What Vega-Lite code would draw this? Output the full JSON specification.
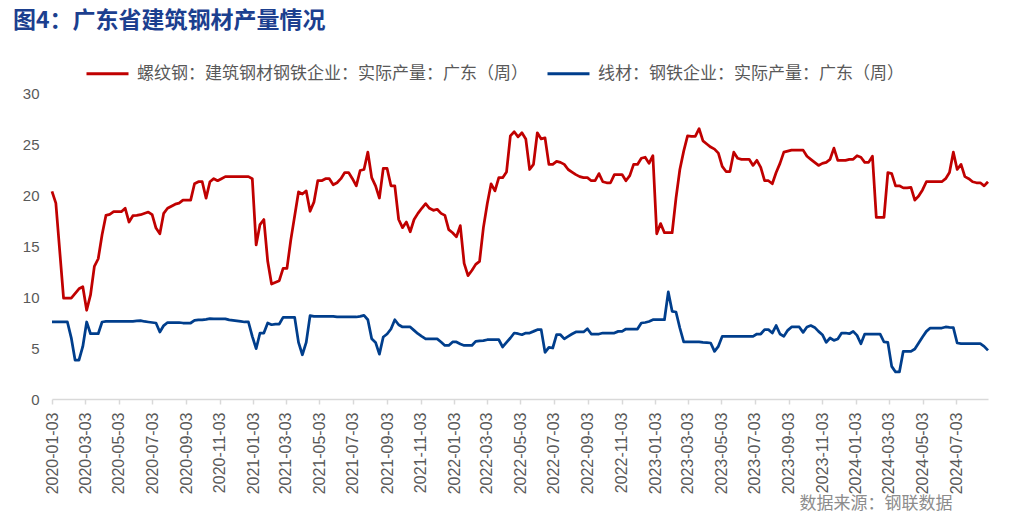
{
 "$schema": "https://vega.github.io/schema/vega-lite/v6.json",
 "width": 936,
 "height": 306,
 "autosize": "none",
 "padding": {"left": 52, "top": 93, "right": 25, "bottom": 126},
 "background": "white",
 "title": {"text": "图4：广东省建筑钢材产量情况", "anchor": "start", "frame": "group", "dx": -39, "dy": -3, "font": "Noto Sans CJK SC", "fontSize": 23, "fontWeight": "bold", "color": "#1c3f8f", "baseline": "middle"},
 "data": {"values": [
{"d":"2020-01-03","r":20.35,"w":7.55},
{"d":"2020-01-10","r":19.2,"w":7.55},
{"d":"2020-01-17","w":7.55},
{"d":"2020-01-24","r":9.9,"w":7.55},
{"d":"2020-01-31","r":9.9,"w":7.55},
{"d":"2020-02-07","r":9.9,"w":6.0},
{"d":"2020-02-14","w":3.8},
{"d":"2020-02-21","r":10.8,"w":3.8},
{"d":"2020-02-28","r":11.0,"w":5.15},
{"d":"2020-03-06","r":8.7,"w":7.55},
{"d":"2020-03-13","r":10.2,"w":6.4},
{"d":"2020-03-20","r":13.0,"w":6.4},
{"d":"2020-03-27","r":13.75,"w":6.4},
{"d":"2020-04-03","r":16.1,"w":7.55},
{"d":"2020-04-10","r":18.0,"w":7.6},
{"d":"2020-04-17","r":18.1,"w":7.6},
{"d":"2020-04-24","r":18.36,"w":7.6},
{"d":"2020-05-01","r":18.36,"w":7.6},
{"d":"2020-05-08","r":18.36,"w":7.6},
{"d":"2020-05-15","r":18.7,"w":7.6},
{"d":"2020-05-22","r":17.35,"w":7.62},
{"d":"2020-05-29","r":17.97,"w":7.62},
{"d":"2020-06-05","r":18.0,"w":7.65},
{"d":"2020-06-12","r":18.07,"w":7.68},
{"d":"2020-06-19","w":7.6},
{"d":"2020-06-26","r":18.33,"w":7.55},
{"d":"2020-07-03","r":18.07,"w":7.5},
{"d":"2020-07-10","r":16.76,"w":7.45},
{"d":"2020-07-17","r":16.2,"w":6.57},
{"d":"2020-07-24","r":18.2,"w":7.2},
{"d":"2020-07-31","r":18.7,"w":7.5},
{"d":"2020-08-07","r":18.9,"w":7.5},
{"d":"2020-08-14","r":19.1,"w":7.5},
{"d":"2020-08-21","r":19.2,"w":7.5},
{"d":"2020-08-28","r":19.5,"w":7.45},
{"d":"2020-09-04","r":19.5,"w":7.45},
{"d":"2020-09-11","r":19.5,"w":7.45},
{"d":"2020-09-18","r":21.1,"w":7.7},
{"d":"2020-09-25","r":21.3,"w":7.75},
{"d":"2020-10-02","r":21.3,"w":7.75},
{"d":"2020-10-09","r":19.7,"w":7.8},
{"d":"2020-10-16","r":21.3,"w":7.87},
{"d":"2020-10-23","r":21.6,"w":7.85},
{"d":"2020-10-30","r":21.4,"w":7.85},
{"d":"2020-11-06","r":21.6,"w":7.85},
{"d":"2020-11-13","r":21.8,"w":7.85},
{"d":"2020-11-20","r":21.8,"w":7.75},
{"d":"2020-11-27","r":21.8,"w":7.7},
{"d":"2020-12-04","r":21.8,"w":7.65},
{"d":"2020-12-11","r":21.8,"w":7.6},
{"d":"2020-12-18","r":21.8,"w":7.55},
{"d":"2020-12-25","r":21.8,"w":7.55},
{"d":"2021-01-01","r":21.6,"w":6.14},
{"d":"2021-01-08","r":15.1,"w":4.93},
{"d":"2021-01-15","r":17.1,"w":6.47},
{"d":"2021-01-22","r":17.6,"w":6.47},
{"d":"2021-01-29","r":13.5,"w":7.45},
{"d":"2021-02-05","r":11.27,"w":7.28},
{"d":"2021-02-12","w":7.35},
{"d":"2021-02-19","r":11.6,"w":7.35},
{"d":"2021-02-26","r":12.8,"w":8.0},
{"d":"2021-03-05","r":12.8,"w":8.0},
{"d":"2021-03-12","r":15.6,"w":8.0},
{"d":"2021-03-19","w":8.0},
{"d":"2021-03-26","r":20.3,"w":5.55},
{"d":"2021-04-02","r":20.1,"w":4.34},
{"d":"2021-04-09","r":20.4,"w":5.55},
{"d":"2021-04-16","r":18.4,"w":8.17},
{"d":"2021-04-23","r":19.3,"w":8.1},
{"d":"2021-04-30","r":21.4,"w":8.1},
{"d":"2021-05-07","r":21.4,"w":8.1},
{"d":"2021-05-14","r":21.6,"w":8.1},
{"d":"2021-05-21","r":21.6,"w":8.1},
{"d":"2021-05-28","r":21.0,"w":8.1},
{"d":"2021-06-04","r":21.2,"w":8.05},
{"d":"2021-06-11","r":21.6,"w":8.05},
{"d":"2021-06-18","r":22.2,"w":8.05},
{"d":"2021-06-25","r":22.2,"w":8.05},
{"d":"2021-07-02","r":21.6,"w":8.05},
{"d":"2021-07-09","r":20.9,"w":8.04},
{"d":"2021-07-16","r":22.4,"w":8.1},
{"d":"2021-07-23","r":22.5,"w":8.2},
{"d":"2021-07-30","r":24.2,"w":7.77},
{"d":"2021-08-06","r":21.7,"w":5.9},
{"d":"2021-08-13","r":20.9,"w":5.55},
{"d":"2021-08-20","r":19.7,"w":4.4},
{"d":"2021-08-27","r":22.6,"w":6.08},
{"d":"2021-09-03","r":22.6,"w":6.37},
{"d":"2021-09-10","r":20.9,"w":6.86},
{"d":"2021-09-17","r":20.9,"w":7.77},
{"d":"2021-09-24","r":17.6,"w":7.28},
{"d":"2021-10-01","r":16.8,"w":7.06},
{"d":"2021-10-08","r":17.35,"w":7.06},
{"d":"2021-10-15","r":16.4,"w":7.06},
{"d":"2021-10-22","r":17.6,"w":6.73},
{"d":"2021-10-29","r":18.2,"w":6.4},
{"d":"2021-11-05","r":18.7,"w":6.14},
{"d":"2021-11-12","r":19.15,"w":5.9},
{"d":"2021-11-19","r":18.7,"w":5.9},
{"d":"2021-11-26","r":18.5,"w":5.9},
{"d":"2021-12-03","r":18.6,"w":5.9},
{"d":"2021-12-10","r":18.2,"w":5.59},
{"d":"2021-12-17","r":18.0,"w":5.25},
{"d":"2021-12-24","r":16.6,"w":5.25},
{"d":"2021-12-31","r":16.3,"w":5.59},
{"d":"2022-01-07","r":15.9,"w":5.59},
{"d":"2022-01-14","r":17.0,"w":5.39},
{"d":"2022-01-21","r":13.3,"w":5.25},
{"d":"2022-01-28","r":12.1,"w":5.25},
{"d":"2022-02-04","r":12.6,"w":5.25},
{"d":"2022-02-11","r":13.2,"w":5.65},
{"d":"2022-02-18","r":13.5,"w":5.7},
{"d":"2022-02-25","r":16.8,"w":5.72},
{"d":"2022-03-04","r":19.15,"w":5.81},
{"d":"2022-03-11","r":21.1,"w":5.81},
{"d":"2022-03-18","r":20.4,"w":5.81},
{"d":"2022-03-25","r":21.7,"w":5.81},
{"d":"2022-04-01","r":21.7,"w":5.1},
{"d":"2022-04-08","r":22.25,"w":5.55},
{"d":"2022-04-15","r":25.8,"w":5.98},
{"d":"2022-04-22","r":26.2,"w":6.47},
{"d":"2022-04-29","r":25.7,"w":6.4},
{"d":"2022-05-06","r":26.1,"w":6.3},
{"d":"2022-05-13","r":25.5,"w":6.47},
{"d":"2022-05-20","r":22.5,"w":6.47},
{"d":"2022-05-27","r":23.0,"w":6.63},
{"d":"2022-06-03","r":26.1,"w":6.8},
{"d":"2022-06-10","r":25.5,"w":6.8},
{"d":"2022-06-17","r":25.6,"w":4.57},
{"d":"2022-06-24","r":23.0,"w":5.06},
{"d":"2022-07-01","r":23.0,"w":5.0},
{"d":"2022-07-08","r":23.3,"w":6.3},
{"d":"2022-07-15","r":23.2,"w":6.3},
{"d":"2022-07-22","r":23.0,"w":5.9},
{"d":"2022-07-29","r":22.5,"w":6.14},
{"d":"2022-08-05","r":22.25,"w":6.37},
{"d":"2022-08-12","r":22.0,"w":6.57},
{"d":"2022-08-19","r":21.8,"w":6.57},
{"d":"2022-08-26","r":21.7,"w":6.57},
{"d":"2022-09-02","r":21.7,"w":6.89},
{"d":"2022-09-09","r":21.4,"w":6.37},
{"d":"2022-09-16","r":21.4,"w":6.37},
{"d":"2022-09-23","r":22.1,"w":6.37},
{"d":"2022-09-30","r":21.3,"w":6.47},
{"d":"2022-10-07","r":21.2,"w":6.47},
{"d":"2022-10-14","r":21.2,"w":6.47},
{"d":"2022-10-21","r":22.0,"w":6.47},
{"d":"2022-10-28","r":22.0,"w":6.63},
{"d":"2022-11-04","r":22.0,"w":6.63},
{"d":"2022-11-11","r":21.4,"w":6.86},
{"d":"2022-11-18","r":21.9,"w":6.86},
{"d":"2022-11-25","r":23.0,"w":6.86},
{"d":"2022-12-02","r":23.0,"w":6.86},
{"d":"2022-12-09","r":23.6,"w":7.45},
{"d":"2022-12-16","r":23.7,"w":7.5},
{"d":"2022-12-23","r":23.1,"w":7.6},
{"d":"2022-12-30","r":23.85,"w":7.77},
{"d":"2023-01-06","r":16.2,"w":7.77},
{"d":"2023-01-13","r":17.2,"w":7.77},
{"d":"2023-01-20","r":16.3,"w":7.77},
{"d":"2023-01-27","r":16.3,"w":10.5},
{"d":"2023-02-03","r":16.3,"w":8.6},
{"d":"2023-02-10","r":19.7,"w":8.53},
{"d":"2023-02-17","r":22.5,"w":6.96},
{"d":"2023-02-24","r":24.3,"w":5.59},
{"d":"2023-03-03","r":25.8,"w":5.59},
{"d":"2023-03-10","r":25.75,"w":5.59},
{"d":"2023-03-17","r":25.75,"w":5.59},
{"d":"2023-03-24","r":26.5,"w":5.59},
{"d":"2023-03-31","r":25.3,"w":5.55},
{"d":"2023-04-07","r":25.0,"w":5.52},
{"d":"2023-04-14","r":24.7,"w":5.49},
{"d":"2023-04-21","r":24.5,"w":4.67},
{"d":"2023-04-28","r":24.1,"w":5.16},
{"d":"2023-05-05","r":22.8,"w":6.14},
{"d":"2023-05-12","r":22.3,"w":6.14},
{"d":"2023-05-19","r":22.3,"w":6.14},
{"d":"2023-05-26","r":24.2,"w":6.14},
{"d":"2023-06-02","r":23.6,"w":6.14},
{"d":"2023-06-09","r":23.5,"w":6.14},
{"d":"2023-06-16","r":23.5,"w":6.14},
{"d":"2023-06-23","r":23.5,"w":6.14},
{"d":"2023-06-30","r":22.9,"w":6.14},
{"d":"2023-07-07","r":23.4,"w":6.37},
{"d":"2023-07-14","r":22.7,"w":6.37},
{"d":"2023-07-21","r":21.4,"w":6.8},
{"d":"2023-07-28","r":21.4,"w":6.8},
{"d":"2023-08-04","r":21.1,"w":6.47},
{"d":"2023-08-11","r":22.2,"w":7.2},
{"d":"2023-08-18","r":23.1,"w":6.37},
{"d":"2023-08-25","r":24.2,"w":6.14},
{"d":"2023-09-01","r":24.3,"w":6.73},
{"d":"2023-09-08","r":24.4,"w":7.06},
{"d":"2023-09-15","r":24.4,"w":7.06},
{"d":"2023-09-22","r":24.4,"w":7.06},
{"d":"2023-09-29","r":24.4,"w":6.53},
{"d":"2023-10-06","r":23.8,"w":7.06},
{"d":"2023-10-13","r":23.5,"w":7.2},
{"d":"2023-10-20","r":23.2,"w":7.02},
{"d":"2023-10-27","r":22.9,"w":6.63},
{"d":"2023-11-03","r":23.1,"w":6.3},
{"d":"2023-11-10","r":23.2,"w":5.55},
{"d":"2023-11-17","r":23.5,"w":5.98},
{"d":"2023-11-24","r":24.6,"w":5.75},
{"d":"2023-12-01","r":23.4,"w":5.88},
{"d":"2023-12-08","r":23.4,"w":6.47},
{"d":"2023-12-15","r":23.4,"w":6.47},
{"d":"2023-12-22","r":23.5,"w":6.4},
{"d":"2023-12-29","r":23.5,"w":6.63},
{"d":"2024-01-05","r":23.85,"w":6.24},
{"d":"2024-01-12","r":23.7,"w":5.42},
{"d":"2024-01-19","r":23.2,"w":6.37},
{"d":"2024-01-26","r":23.2,"w":6.37},
{"d":"2024-02-02","r":23.8,"w":6.37},
{"d":"2024-02-09","r":17.8,"w":6.37},
{"d":"2024-02-16","r":17.8,"w":6.37},
{"d":"2024-02-23","r":17.8,"w":5.59},
{"d":"2024-03-01","r":22.2,"w":5.55},
{"d":"2024-03-08","r":22.1,"w":3.2},
{"d":"2024-03-15","r":20.9,"w":2.65},
{"d":"2024-03-22","r":20.9,"w":2.65},
{"d":"2024-03-29","r":20.7,"w":4.67},
{"d":"2024-04-05","r":20.7,"w":4.67},
{"d":"2024-04-12","r":20.75,"w":4.67},
{"d":"2024-04-19","r":19.5,"w":4.9},
{"d":"2024-04-26","r":19.9,"w":5.49},
{"d":"2024-05-03","r":20.5,"w":6.08},
{"d":"2024-05-10","r":21.3,"w":6.63},
{"d":"2024-05-17","r":21.3,"w":6.96},
{"d":"2024-05-24","r":21.3,"w":6.96},
{"d":"2024-05-31","r":21.3,"w":6.96},
{"d":"2024-06-07","r":21.3,"w":6.96},
{"d":"2024-06-14","r":21.6,"w":7.06},
{"d":"2024-06-21","r":22.2,"w":7.02},
{"d":"2024-06-28","r":24.2,"w":7.0},
{"d":"2024-07-05","r":22.5,"w":5.49},
{"d":"2024-07-12","r":23.0,"w":5.42},
{"d":"2024-07-19","r":21.8,"w":5.42},
{"d":"2024-07-26","r":21.6,"w":5.42},
{"d":"2024-08-02","r":21.3,"w":5.42},
{"d":"2024-08-09","r":21.2,"w":5.42},
{"d":"2024-08-16","r":21.2,"w":5.42},
{"d":"2024-08-23","r":20.9,"w":5.16},
{"d":"2024-08-30","r":21.3,"w":4.77}
 ]},
 "transform": [
  {"fold": ["r", "w"], "as": ["s", "v"]},
  {"filter": "isValid(datum.v)"}
 ],
 "mark": {"type": "line", "strokeWidth": 2.75, "strokeJoin": "round", "clip": false},
 "encoding": {
  "x": {
   "field": "d", "type": "temporal",
   "scale": {"type": "utc", "domain": [{"year": 2020, "month": 1, "date": 3, "utc": true}, {"year": 2024, "month": 8, "date": 30, "utc": true}]},
   "axis": {
    "values": [
     {"year": 2020, "month": 1, "date": 3, "utc": true}, {"year": 2020, "month": 3, "date": 3, "utc": true}, {"year": 2020, "month": 5, "date": 3, "utc": true}, {"year": 2020, "month": 7, "date": 3, "utc": true}, {"year": 2020, "month": 9, "date": 3, "utc": true}, {"year": 2020, "month": 11, "date": 3, "utc": true},
     {"year": 2021, "month": 1, "date": 3, "utc": true}, {"year": 2021, "month": 3, "date": 3, "utc": true}, {"year": 2021, "month": 5, "date": 3, "utc": true}, {"year": 2021, "month": 7, "date": 3, "utc": true}, {"year": 2021, "month": 9, "date": 3, "utc": true}, {"year": 2021, "month": 11, "date": 3, "utc": true},
     {"year": 2022, "month": 1, "date": 3, "utc": true}, {"year": 2022, "month": 3, "date": 3, "utc": true}, {"year": 2022, "month": 5, "date": 3, "utc": true}, {"year": 2022, "month": 7, "date": 3, "utc": true}, {"year": 2022, "month": 9, "date": 3, "utc": true}, {"year": 2022, "month": 11, "date": 3, "utc": true},
     {"year": 2023, "month": 1, "date": 3, "utc": true}, {"year": 2023, "month": 3, "date": 3, "utc": true}, {"year": 2023, "month": 5, "date": 3, "utc": true}, {"year": 2023, "month": 7, "date": 3, "utc": true}, {"year": 2023, "month": 9, "date": 3, "utc": true}, {"year": 2023, "month": 11, "date": 3, "utc": true},
     {"year": 2024, "month": 1, "date": 3, "utc": true}, {"year": 2024, "month": 3, "date": 3, "utc": true}, {"year": 2024, "month": 5, "date": 3, "utc": true}, {"year": 2024, "month": 7, "date": 3, "utc": true}
    ],
    "labelExpr": "utcFormat(datum.value, '%Y-%m-%d')",
    "labelAngle": -90, "labelFont": "Liberation Sans", "labelFontSize": 16, "labelColor": "#595959", "labelPadding": 8,
    "labelOverlap": false, "labelFlush": false,
    "tickColor": "#d9d9d9", "tickSize": 5, "tickWidth": 1.5,
    "domainColor": "#d9d9d9", "domainWidth": 1.5,
    "grid": false,
    "title": "数据来源：钢联数据",
    "titleFont": "Noto Sans CJK SC", "titleFontSize": 17, "titleFontWeight": "normal", "titleColor": "#8c8c8c",
    "titleAngle": 0, "titleAlign": "right", "titleBaseline": "middle", "titleX": 900, "titleY": 104
   }
  },
  "y": {
   "field": "v", "type": "quantitative",
   "scale": {"domain": [0, 30], "nice": false, "zero": true},
   "axis": {"values": [0, 5, 10, 15, 20, 25, 30], "grid": false, "domain": false, "ticks": false, "labelPadding": 13, "labelFont": "Liberation Sans", "labelFontSize": 15, "labelColor": "#595959", "title": null}
  },
  "color": {
   "field": "s", "type": "nominal",
   "scale": {"domain": ["r", "w"], "range": ["#c00000", "#003e8c"]},
   "legend": {
    "title": null, "orient": "none", "direction": "horizontal", "legendX": 33, "legendY": -42,
    "symbolType": "stroke", "symbolSize": 1764, "symbolStrokeWidth": 3,
    "labelFont": "Noto Sans CJK SC", "labelFontSize": 17, "labelColor": "#595959", "labelLimit": 600, "labelOffset": 7, "columnPadding": 13,
    "labelExpr": "datum.label == 'r' ? '螺纹钢：建筑钢材钢铁企业：实际产量：广东（周）' : '线材：钢铁企业：实际产量：广东（周）'"
   }
  }
 },
 "config": {"view": {"stroke": null}}
}
